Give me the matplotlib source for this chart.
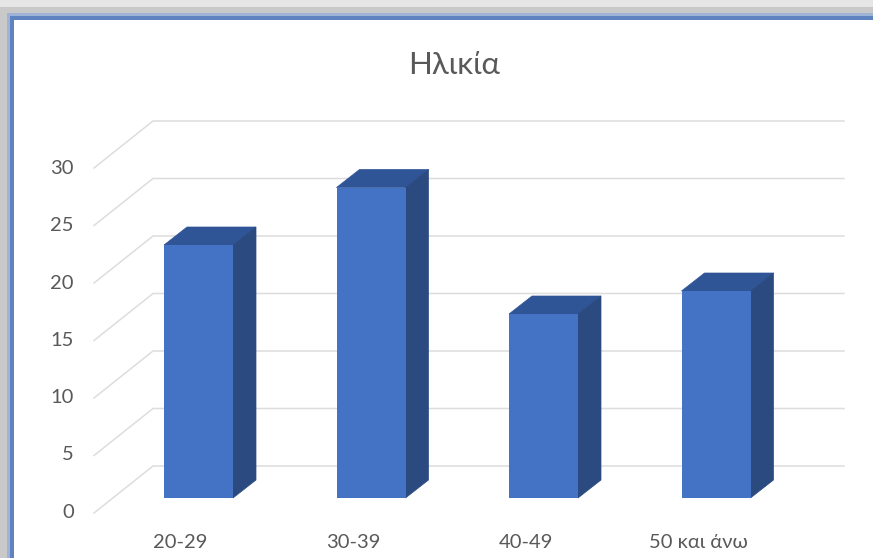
import matplotlib
matplotlib.use("Agg")
import matplotlib.pyplot as plt
from matplotlib.patches import Polygon, Rectangle

categories = ["20-29", "30-39", "40-49", "50 και άνω"]
values = [22, 27, 16, 18]
y_ticks = [0, 5, 10, 15, 20, 25, 30]
title = "Ηλικία"

W, H = 873, 558
PX_X = 172.5   # pixels per category step
PX_Y = 11.5    # pixels per value unit
X0 = 198.5     # pixel of first category centre
Y0 = 498.0     # pixel of value 0 on the bar front plane

plt.rcParams["font.family"] = ["Lato", "DejaVu Sans"]
fig = plt.figure(figsize=(W / 100, H / 100), dpi=100, facecolor="white")
ax = fig.add_axes([0, 0, 1, 1])
ax.set_xlim(-X0 / PX_X, (W - X0) / PX_X)
ax.set_ylim(-(H - Y0) / PX_Y, Y0 / PX_Y)
ax.axis("off")

# Depth offsets in data units
bar_dx, bar_dy = 23 / PX_X, 18 / PX_Y
back_left = (153 - X0) / PX_X
back_right = (844 - X0) / PX_X
back_dy = 32 / PX_Y
front_left = (94 - X0) / PX_X
front_dy = -15 / PX_Y
label_dy = -14 / PX_Y

grid_c = "#dddddd"
for v in y_ticks:
    ax.plot([front_left, back_left, back_right],
            [v + front_dy, v + back_dy, v + back_dy],
            color=grid_c, lw=1.1, zorder=1, solid_joinstyle="miter")
    ax.text((74 - X0) / PX_X, v * 0.995 + label_dy, str(v), ha="right", va="center",
            fontsize=14.5, color="#595959", zorder=5)

positions = list(range(len(categories)))
width = 69 / PX_X
for p, v in zip(positions, values):
    l, r = p - width / 2, p + width / 2
    ax.add_patch(Polygon([(l, v), (r, v), (r + bar_dx, v + bar_dy), (l + bar_dx, v + bar_dy)],
                         closed=True, fc="#2f5597", ec="#2f5597", lw=0.5, zorder=3))
    ax.add_patch(Polygon([(r, 0), (r + bar_dx, bar_dy), (r + bar_dx, v + bar_dy), (r, v)],
                         closed=True, fc="#2a4a80", ec="#2a4a80", lw=0.5, zorder=3))
    ax.text(p - 18 / PX_X, (Y0 - 543) / PX_Y, categories[p], ha="center", va="center",
            fontsize=14.5, color="#595959", zorder=5)
ax.bar(positions, values, width=width, color="#4472c4", zorder=4, linewidth=0)

ax.text((454 - X0) / PX_X, (Y0 - 65) / PX_Y, title, ha="center", va="center",
        fontsize=22.5, color="#595959", zorder=5)

# Picture frame: grey shadow and blue border along top and left edges
def band(x, y, w, h, c):
    fig.add_artist(Rectangle((x / W, 1 - (y + h) / H), w / W, h / H,
                             transform=fig.transFigure, fc=c, ec="none", zorder=10))

band(0, 0, W, 7, "#e6e6e6")
band(0, 7, W, 6, "#c9c9c9")
band(0, 13, W, 3, "#9fb3d6")
band(0, 16, W, 4, "#5f83c0")
band(0, 7, 7, H - 7, "#c9c9c9")
band(7, 13, 3, H - 13, "#9fb3d6")
band(10, 16, 4, H - 16, "#5f83c0")

fig.savefig("out.png", dpi=100)
